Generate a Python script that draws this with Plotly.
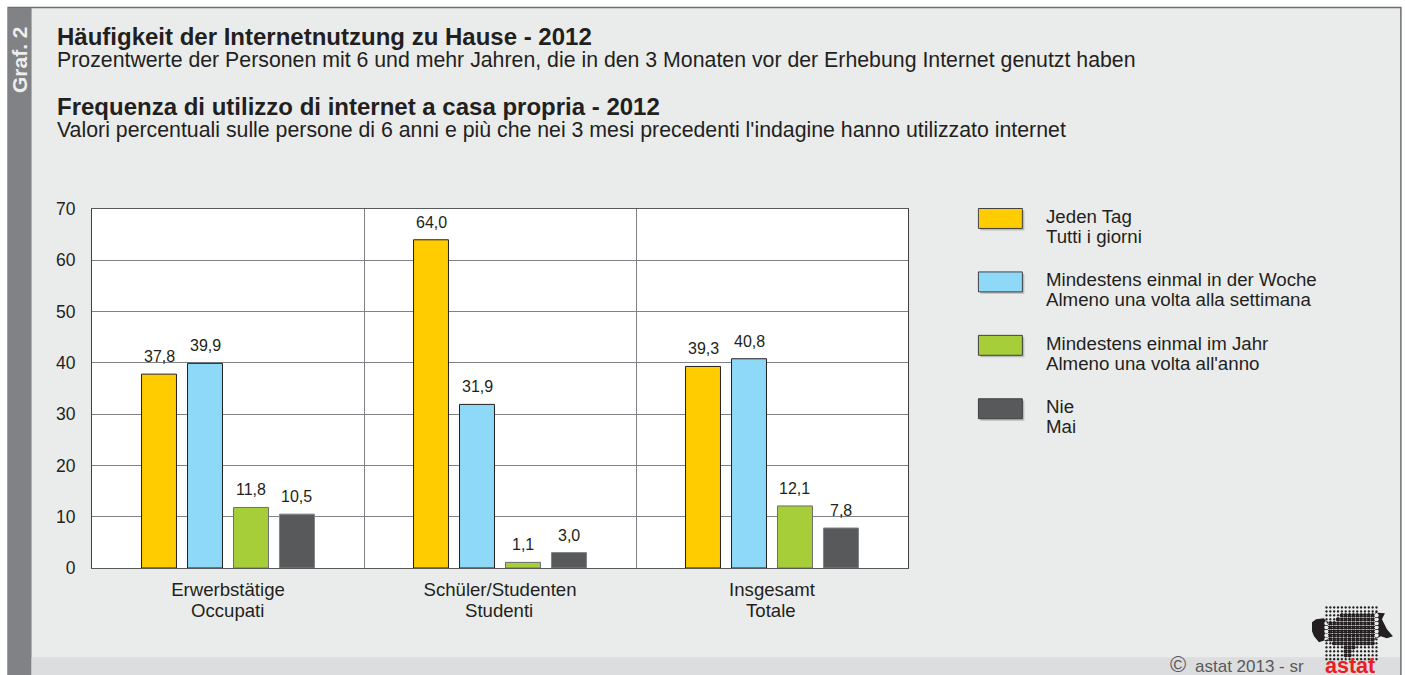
import plotly.graph_objects as go

W, H = 1405, 675
PL, PR, PT, PB = 91.5, 908.5, 208.5, 568.5

category_de = ["Erwerbstätige", "Schüler/Studenten", "Insgesamt"]
category_it = ["Occupati", "Studenti", "Totale"]
series_de = ["Jeden Tag", "Mindestens einmal in der Woche", "Mindestens einmal im Jahr", "Nie"]
series_it = ["Tutti i giorni", "Almeno una volta alla settimana", "Almeno una volta all'anno", "Mai"]
jeden_tag = [37.8, 64.0, 39.3]
woche = [39.9, 31.9, 40.8]
jahr = [11.8, 1.1, 12.1]
nie = [10.5, 3.0, 7.8]
series_values = [jeden_tag, woche, jahr, nie]
colors = ["#FFCC00", "#8ED8F8", "#A6CE39", "#58595B"]
edges = ["#231F20", "#231F20", "#6D6E71", "#808285"]
title_de = "Häufigkeit der Internetnutzung zu Hause - 2012"
sub_de = "Prozentwerte der Personen mit 6 und mehr Jahren, die in den 3 Monaten vor der Erhebung Internet genutzt haben"
title_it = "Frequenza di utilizzo di internet a casa propria - 2012"
sub_it = "Valori percentuali sulle persone di 6 anni e più che nei 3 mesi precedenti l'indagine hanno utilizzato internet"

FONT = "Liberation Sans"
INK = "#231F20"
px = lambda x: (x - PL) / (PR - PL)
py = lambda y: (PB - y) / (PB - PT)

def rect(x0, y0, x1, y1, fill, line=None, lw=1):
    return dict(type="rect", xref="paper", yref="paper", layer="below",
                x0=px(x0), x1=px(x1), y0=py(y0), y1=py(y1), fillcolor=fill,
                line=dict(color=line, width=lw) if line else dict(width=0))

def text(x, y, s, size, bold=False, color=INK, anchor="left", angle=0):
    return dict(xref="paper", yref="paper", x=px(x), y=py(y), text=f"<b>{s}</b>" if bold else s,
                showarrow=False, xanchor=anchor, yanchor="middle", textangle=angle, align="left",
                font=dict(family=FONT, size=size, color=color), borderpad=0, borderwidth=0)

fig = go.Figure()
for name, vals, c, e in zip(series_de, series_values, colors, edges):
    fig.add_bar(x=list(range(3)), y=vals, name=name, marker=dict(color=c, line=dict(color=e, width=1)), showlegend=False)

shapes = [
    rect(7.5, 6.5, 1402, 700, "#EAECEB", "#6D6E71", 1.5),
    rect(8, 7, 31, 700, "#808285"),
    rect(31, 658, 1401, 700, "#DCDDDE"),
    rect(PL, PT, PR, PB, "#FFFFFF"),
]
ann = [
    text(56.5, 36, title_de, 24, True),
    text(56.5, 59, sub_de, 21.3),
    text(56.5, 106, title_it, 24, True),
    text(56.5, 129, sub_it, 21.3),
    text(19.5, 59, "Graf. 2", 21, True, "#EDEEEE", "center", -90),
    text(1196, 667.5, "astat 2013 - sr", 17, False, "#58595B"),
    text(1178.5, 665.5, "©", 22, False, "#58595B", "center"),
    text(1351, 667, "astat", 21.5, True, "#ED1C24", "center"),
]

for j, s in enumerate(category_it):
    ann.append(dict(xref="x", yref="paper", x=j - 0.002, y=py(611.5), yanchor="middle", text=s, showarrow=False,
                    font=dict(family=FONT, size=18.6, color=INK)))

pitch = 46 / ((PR - PL) / 3)
for i, vals in enumerate(series_values):
    for j, v in enumerate(vals):
        ann.append(dict(xref="x", yref="y", x=j + (i - 1.5) * pitch, y=v, yshift=7, yanchor="bottom",
                        text=f"{v:.1f}".replace(".", ","), showarrow=False,
                        font=dict(family=FONT, size=16, color=INK)))

for i, (de, it, c) in enumerate(zip(series_de, series_it, colors)):
    y0 = 208 + i * 63.6
    shapes.append(rect(981, y0 + 2, 1025, y0 + 22, "#B9BBBB"))
    shapes.append(rect(979, y0, 1023, y0 + 20, c, "#414042", 1))
    ann.append(text(1047, y0 + 8, de, 18.7))
    ann.append(text(1047, y0 + 28, it, 18.7))

# astat logo
left_piece = [(1313,623),(1317,620),(1325,619),(1329,625),(1329,640),(1320,643),(1315,637),(1313,632)]
right_piece = [(1376,613),(1386,614),(1383,620),(1388,630),(1394,637),(1388,639),(1382,637),(1376,640)]
middle = [(1325,622),(1338,622),(1340,615),(1378,614),(1378,638),(1376,644),(1363,645),(1355,650),(1351,659),
          (1345,655),(1343,648),(1333,643),(1325,642)]

def inside(x, y, poly):
    res = False
    for (x0, y0), (x1, y1) in zip(poly, poly[1:] + poly[:1]):
        if (y0 > y) != (y1 > y) and x < x0 + (y - y0) * (x1 - x0) / (y1 - y0):
            res = not res
    return res

dots = []
for r in range(14):
    for k in range(14):
        cx, cy = 1327.5 + k * 3.85, 608 + r * 4.0
        rad = 2.3 if inside(cx, cy, middle) else 1.25
        o = rad * 0.7
        pts = [(cx-rad,cy),(cx-o,cy-o),(cx,cy-rad),(cx+o,cy-o),(cx+rad,cy),(cx+o,cy+o),(cx,cy+rad),(cx-o,cy+o)]
        dots.append("M" + "L".join(f"{px(a)},{py(b)}" for a, b in pts) + "Z")
for poly in (left_piece, right_piece):
    dots.append("M" + "L".join(f"{px(a)},{py(b)}" for a, b in poly) + "Z")
shapes.append(dict(type="path", xref="paper", yref="paper", layer="below", path="".join(dots),
                   fillcolor="#231F20", line=dict(width=0)))

fig.update_layout(
    width=W, height=H, barmode="group", bargap=0.3235, bargroupgap=0.24,
    margin=dict(l=PL, r=W - PR, t=PT, b=H - PB, pad=0, autoexpand=False),
    paper_bgcolor="#FFFFFF", plot_bgcolor="rgba(0,0,0,0)",
    font=dict(family=FONT, size=18, color=INK),
    shapes=shapes, annotations=ann,
    xaxis=dict(type="category", tickmode="array", tickvals=list(range(3)), ticktext=category_de, tickson="boundaries",
               range=[-0.5, 2.5], showgrid=True, gridcolor="#808285", gridwidth=1, ticks="",
               showline=True, linecolor="#58595B", linewidth=1, mirror=True, tickfont=dict(size=18.6), ticklabelstandoff=5),
    yaxis=dict(range=[0, 70], dtick=10, showgrid=True, gridcolor="#808285", gridwidth=1, zeroline=False, ticks="",
               showline=True, linecolor="#414042", linewidth=1, mirror=True, tickfont=dict(size=17.5), ticklabelstandoff=12),
)
fig.write_html("out.html", config=dict(displayModeBar=False), post_script="document.body.style.margin='0';")
